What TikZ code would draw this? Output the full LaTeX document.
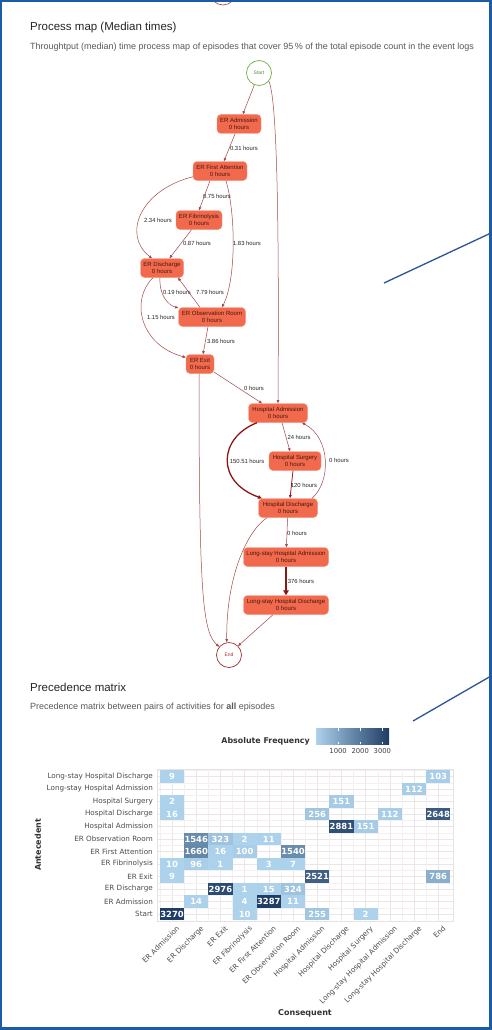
\documentclass[tikz,border=0pt]{standalone}
\usepackage{fontspec}
\setmainfont{Liberation Sans}
\newfontfamily\dejavu{DejaVu Sans}
\usetikzlibrary{positioning, arrows.meta, shapes}

\definecolor{frameblue}{RGB}{28,92,165}
\definecolor{calloutblue}{RGB}{44,84,150}
\definecolor{actfill}{RGB}{242,106,78}
\definecolor{actborder}{RGB}{246,150,128}
\definecolor{acttext}{RGB}{70,22,12}
\definecolor{edgecol}{RGB}{160,70,70}
\definecolor{heavycol}{RGB}{140,22,22}
\definecolor{startcol}{RGB}{112,176,72}
\definecolor{endcol}{RGB}{160,48,48}
\definecolor{celllight}{RGB}{172,210,236}
\definecolor{celldark}{RGB}{30,60,100}
\definecolor{gridcol}{RGB}{236,229,231}

\tikzset{
  act/.style={draw=actborder, fill=actfill, rounded corners=4pt, minimum height=19pt,
    inner sep=1pt, align=center, text=acttext, line width=0.4pt,
    font=\fontsize{6}{6.8}\selectfont},
  ev/.style={circle, fill=white, minimum size=25pt, inner sep=0pt, line width=0.7pt,
    font=\fontsize{5}{6}\selectfont},
  flow/.style={color=edgecol, line width=0.5pt, -{Triangle[length=3.2pt,width=2.6pt]}},
  mid/.style={flow, color=heavycol!80!edgecol, line width=0.8pt},
  heavy/.style={flow, color=heavycol, line width=1.3pt, -{Triangle[length=4pt,width=3.6pt]}},
  heaviest/.style={flow, color=heavycol, line width=2.6pt, -{Triangle[length=5pt,width=5.5pt]}},
  hrs/.style={font=\fontsize{5.9}{6.5}\selectfont, text=black!85, inner sep=0.5pt},
  rowlab/.style={anchor=east, inner sep=0pt, text=black!70, font=\dejavu\fontsize{7.2}{8}\selectfont},
  collab/.style={rowlab, rotate=45, anchor=north east},
  tile/.style={minimum width=24.2pt, minimum height=12.5pt, inner sep=0pt, text=white,
    font=\dejavu\bfseries\fontsize{8.4}{9}\selectfont},
  axtitle/.style={inner sep=0pt, text=black!80, font=\dejavu\bfseries\fontsize{8}{9}\selectfont},
  callout/.style={calloutblue, line width=1.3pt},
}

\begin{document}
\begin{tikzpicture}[x=1pt, y=-1pt]
    \useasboundingbox (0,0) rectangle (492,1030);
    \fill[white] (0,0) rectangle (492,1030);
    % End node of the previous map, cut by the page top
    \begin{scope}
        \clip (0,0) rectangle (492,1030);
        \draw[endcol!80!gray, line width=0.6pt] (223,-8) circle (13);
    \end{scope}

    % Process map headings
    \node[anchor=base west, inner sep=0pt, text=black!85, font=\fontsize{11.5}{13}\selectfont] (pmtitle) at (30,31) {Process map (Median times)};
    \node[anchor=base west, inner sep=0pt, text=black!65, font=\fontsize{9}{10}\selectfont] (pmsub) at (30,50) {Throughtput (median) time process map of episodes that cover 95\,\% of the total episode count in the event logs};

    % Activities
    \node[ev, draw=startcol, text=startcol!80!black] (start) at (259,73) {Start};
    \node[act, minimum width=44pt] (eradm) at (239,124) {ER Admission\\0 hours};
    \node[act, minimum width=54pt] (erfa) at (220,171) {ER First Attention\\0 hours};
    \node[act, minimum width=46pt] (erfib) at (199,220) {ER Fibrinolysis\\0 hours};
    \node[act, minimum width=43pt] (erdis) at (162,268) {ER Discharge\\0 hours};
    \node[act, minimum width=67pt] (erobs) at (212,317) {ER Observation Room\\0 hours};
    \node[act, minimum width=28pt] (erexit) at (200,364) {ER Exit\\0 hours};
    \node[act, minimum width=59pt] (hadm) at (278,413) {Hospital Admission\\0 hours};
    \node[act, minimum width=52pt] (hsurg) at (295,461) {Hospital Surgery\\0 hours};
    \node[act, minimum width=59pt] (hdis) at (288,508) {Hospital Discharge\\0 hours};
    \node[act, minimum width=85pt] (lsadm) at (286,557) {Long-stay Hospital Admission\\0 hours};
    \node[act, minimum width=85pt] (lsdis) at (286,605) {Long-stay Hospital Discharge\\0 hours};
    \node[ev, draw=endcol, text=endcol] (end) at (229,655) {End};

    % ER transitions
    \draw[flow] (start) -- (eradm);
    \draw[flow] (start.-40) .. controls (278,100) and (279,250) .. (hadm.north);
    \draw[flow] (eradm) -- (erfa);
    \draw[flow] ([xshift=-10pt]erfa.south) -- (erfib.north);
    \draw[flow] (erfa.192) .. controls (140,190) and (122,235) .. ([xshift=-10pt]erdis.north);
    \draw[flow] ([xshift=6pt]erfa.south) .. controls (236,215) and (236,280) .. ([xshift=10pt]erobs.north);
    \draw[flow] (erfib) -- (erdis);
    \draw[flow] ([xshift=-2pt]erdis.south) .. controls (159,295) and (168,305) .. (erobs.165);
    \draw[flow] ([xshift=-12pt]erobs.north) -- ([xshift=16pt]erdis.south);
    \draw[flow] ([xshift=-9pt]erdis.south) .. controls (130,300) and (140,345) .. (erexit.155);
    \draw[flow] ([xshift=-4pt]erobs.south) -- ([xshift=3pt]erexit.north);
    \draw[flow] (erexit.-30) -- ([xshift=-16pt]hadm.north);
    \draw[flow] ([xshift=-1pt]erexit.south) .. controls (199,600) and (203,632) .. (end.140);

    % Hospital transitions
    \draw[heavy] ([xshift=-21pt]hadm.south) .. controls (218,438) and (216,482) .. ([xshift=-26pt]hdis.north);
    \draw[flow] ([xshift=4pt]hadm.south) -- ([xshift=-5pt]hsurg.north);
    \draw[mid] ([xshift=-2pt]hsurg.south) -- ([xshift=2pt]hdis.north);
    \draw[flow] ([xshift=24pt]hdis.north) .. controls (331,482) and (331,438) .. ([xshift=24pt]hadm.south);
    \draw[flow] (hdis) -- (lsadm);
    \draw[flow] ([xshift=-21pt]hdis.south) .. controls (248,530) and (226,575) .. (end.100);
    \draw[heaviest] (lsadm) -- (lsdis);
    \draw[flow] ([xshift=-13pt]lsdis.south) -- (end.45);

    % Median times
    \node[hrs] (t031) at (244,148) {0.31 hours};
    \node[hrs] (t075) at (217,196) {0.75 hours};
    \node[hrs] (t234) at (158,220) {2.34 hours};
    \node[hrs] (t183) at (247,243) {1.83 hours};
    \node[hrs] (t087) at (197,243) {0.87 hours};
    \node[hrs] (t019) at (177,292) {0.19 hours};
    \node[hrs] (t779) at (210,292) {7.79 hours};
    \node[hrs] (t115) at (161,317) {1.15 hours};
    \node[hrs] (t386) at (221,341) {3.86 hours};
    \node[hrs] (t0a) at (254,388) {0 hours};
    \node[hrs] (t15051) at (247,461) {150.51 hours};
    \node[hrs] (t24) at (299,437) {24 hours};
    \node[hrs] (t0b) at (339,460) {0 hours};
    \node[hrs] (t120) at (304,485) {120 hours};
    \node[hrs] (t0c) at (297,533) {0 hours};
    \node[hrs] (t376) at (301,581) {376 hours};

    % Precedence matrix headings
    \node[anchor=base west, inner sep=0pt, text=black!85, font=\fontsize{11.5}{13}\selectfont] (mxtitle) at (30,691) {Precedence matrix};
    \node[anchor=base west, inner sep=0pt, text=black!65, font=\fontsize{9}{10}\selectfont] (mxsub) at (30,709) {Precedence matrix between pairs of activities for \textbf{all} episodes};

    % Legend
    \node[axtitle, anchor=east, font=\dejavu\bfseries\fontsize{7.9}{9}\selectfont] (legtitle) at (310,741) {Absolute Frequency};
    \shade[left color=celllight, right color=celldark] (316,728) rectangle (389,744);
    \foreach \t in {1000,2000,3000} {
        \draw[white, line width=0.4pt] ({316+73*(\t/3300)},728) -- +(0,2.5);
        \draw[white, line width=0.4pt] ({316+73*(\t/3300)},744) -- +(0,-2.5);
        \node[inner sep=0pt, text=black!75, font=\dejavu\fontsize{6.8}{8}\selectfont] (leg\t) at ({316+73*(\t/3300)},751.5) {\t};
    }

    % Panel grid
    \draw[gray!22, line width=0.5pt] (157.5,769) rectangle (453,921.5);
    \foreach \i in {0,...,11} {
        \draw[gridcol, line width=0.6pt] ({172+24.2*\i},769) -- ({172+24.2*\i},921.5);
        \draw[gridcol, line width=0.6pt] (157.5,{776.5+12.5*\i}) -- (453,{776.5+12.5*\i});
        \draw[gridcol!60!white, line width=0.4pt] ({160+24.2*\i},769) -- ({160+24.2*\i},921.5);
        \draw[gridcol!60!white, line width=0.4pt] (157.5,{770.25+12.5*\i}) -- (453,{770.25+12.5*\i});
    }

    % Tiles: row / column / count
    \foreach \r/\c/\v in {0/0/9, 0/11/103, 1/10/112, 2/0/2, 2/7/151, 3/0/16, 3/6/256, 3/9/112, 3/11/2648,
        4/7/2881, 4/8/151, 5/1/1546, 5/2/323, 5/3/2, 5/4/11, 6/1/1660, 6/2/16, 6/3/100, 6/5/1540,
        7/0/10, 7/1/96, 7/2/1, 7/4/3, 7/5/7, 8/0/9, 8/6/2521, 8/11/786, 9/2/2976, 9/3/1, 9/4/15,
        9/5/324, 10/1/14, 10/3/4, 10/4/3287, 10/5/11, 11/0/3270, 11/3/10, 11/6/255, 11/8/2} {
        \pgfmathsetmacro\pct{min(100,\v/33)}
        \node[tile, fill=celldark!\pct!celllight] (m\r-\c) at ({172+24.2*\c},{776.5+12.5*\r}) {\v};
    }

    % Axis labels
    \foreach \name [count=\i from 0] in {Long-stay Hospital Discharge, Long-stay Hospital Admission,
        Hospital Surgery, Hospital Discharge, Hospital Admission, ER Observation Room,
        ER First Attention, ER Fibrinolysis, ER Exit, ER Discharge, ER Admission, Start}
        \node[rowlab] (row\i) at (153,{776.5+12.5*\i}) {\name};
    \foreach \name [count=\i from 0] in {ER Admission, ER Discharge, ER Exit, ER Fibrinolysis,
        ER First Attention, ER Observation Room, Hospital Admission, Hospital Discharge,
        Hospital Surgery, Long-stay Hospital Admission, Long-stay Hospital Discharge, End}
        \node[collab] (col\i) at ({176+24.2*\i},925) {\name};
    \node[axtitle, rotate=90] (antec) at (38,845) {Antecedent};
    \node[axtitle] (conseq) at (305,1013) {Consequent};

    % Frame and callouts
    \coordinate (pmtip) at (384,283);
    \coordinate (pmedge) at (491,233);
    \coordinate (mxtip) at (413,721);
    \coordinate (mxedge) at (491,676);
    \draw[callout] (pmtip) -- (pmedge);
    \draw[callout] (mxtip) -- (mxedge);
    \draw[frameblue, line width=2.2pt] (1,1) rectangle (490.5,1028.5);
\end{tikzpicture}
\end{document}
